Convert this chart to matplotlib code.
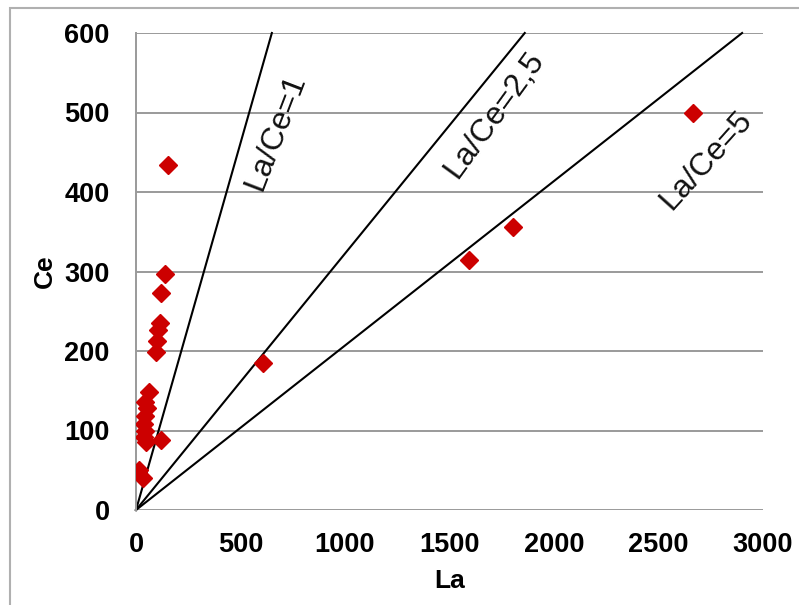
import matplotlib
matplotlib.use("Agg")
import matplotlib.pyplot as plt
from matplotlib.patches import Rectangle

# Sample compositions (ppm)
la = [155, 139, 120, 115, 107, 99, 96,
      60, 45, 55, 42, 38, 45, 40, 48,
      120, 12, 35,
      610, 1595, 1805, 2665]
ce = [434, 297, 273, 235, 226, 212, 199,
      148, 136, 128, 118, 108, 100, 92, 86,
      88, 50, 40,
      185, 314, 356, 500]

# Reference ratio lines: label and La value reached at Ce = 600
ratio_labels = ["La/Ce=1", "La/Ce=2,5", "La/Ce=5"]
ratio_top_la = [650, 1860, 2900]

x_ticks = [0, 500, 1000, 1500, 2000, 2500, 3000]
y_ticks = [0, 100, 200, 300, 400, 500, 600]

plt.rcParams["font.family"] = ["Liberation Sans", "DejaVu Sans"]

fig = plt.figure(figsize=(7.99, 6.05), dpi=100)
fig.patches.append(Rectangle((10 / 799, -0.1), 1.2, 1 - 8 / 605 + 0.1,
                             transform=fig.transFigure, fill=False,
                             edgecolor="#b0b0b0", linewidth=1.5))

ax = fig.add_axes([136 / 799, 1 - 510 / 605, (763 - 136) / 799, (510 - 33) / 605])
ax.set_xlim(0, 3000)
ax.set_ylim(0, 600)

for y in y_ticks:
    ax.axhline(y, color="#9a9a9a", linewidth=1.4, zorder=1)

for lbl, top in zip(ratio_labels, ratio_top_la):
    ax.plot([0, top], [0, 600], color="black", linewidth=1.5, zorder=2,
            clip_on=False)

ax.plot(la, ce, linestyle="none", marker="D", markersize=9,
        color="#cc0000", markeredgecolor="#cc0000", zorder=3)

# Ratio annotations placed alongside each line
label_pos = [(670, 475), (1715, 497), (2730, 440)]
label_rot = [69, 54, 48]
for lbl, (px, py), rot in zip(ratio_labels, label_pos, label_rot):
    ax.text(px, py, lbl, fontsize=23, rotation=rot, ha="center", va="center",
            rotation_mode="anchor", color="#111111")

for side in ["top", "right", "bottom"]:
    ax.spines[side].set_visible(False)
ax.spines["left"].set_color("#9a9a9a")
ax.spines["left"].set_linewidth(1.4)

ax.set_xticks(x_ticks)
ax.set_yticks(y_ticks)
ax.set_xticklabels([str(v) for v in x_ticks], fontsize=19.5, fontweight="bold")
ax.set_yticklabels([str(v) for v in y_ticks], fontsize=19.5, fontweight="bold")
ax.tick_params(axis="y", length=0, pad=19)
ax.tick_params(axis="x", length=0, pad=16)

ax.set_xlabel("La", fontsize=19, fontweight="bold", labelpad=8)
ax.set_ylabel("Ce", fontsize=19, fontweight="bold", labelpad=5)

fig.savefig("out.png", dpi=100)
